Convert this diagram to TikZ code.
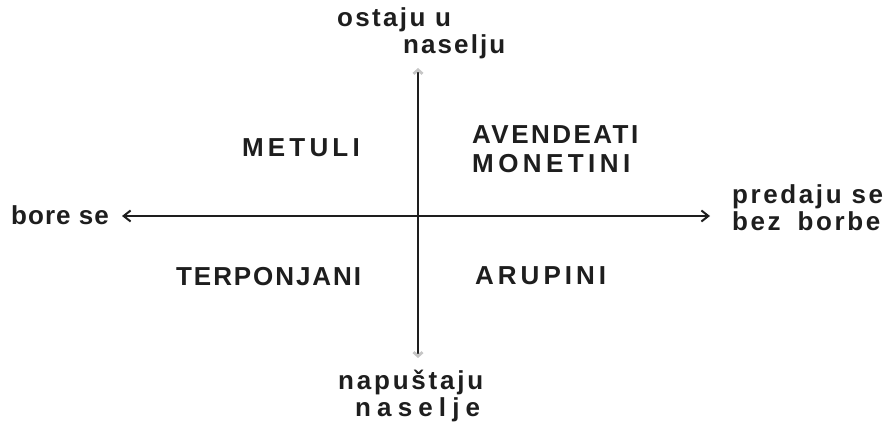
\documentclass[tikz,border=0pt]{standalone}
\usepackage{fontspec}
\setmainfont{Liberation Sans}
\usetikzlibrary{arrows.meta}
\definecolor{ink}{HTML}{1E1E1E}
\begin{document}
\begin{tikzpicture}[x=1pt,y=-1pt,
  lbl/.style={inner sep=0pt, anchor=base west, text=ink},
  upper/.style={text depth=0pt},
  lower/.style={text height=18pt},
  ls/.style={font=\bfseries\fontsize{26}{29}\selectfont\addfontfeature{LetterSpace=#1}},
  axis/.style={draw=ink}]
\useasboundingbox[fill=white] (0,0) rectangle (886,427);
% axes end points
\coordinate (top) at (418,68);
\coordinate (bot) at (418,358);
\coordinate (lft) at (122,216);
\coordinate (rgt) at (710,216);
\draw[axis, line width=2.8pt, {Straight Barb[length=4pt,width=9pt,color=gray!45]}-{Straight Barb[length=4pt,width=9pt,color=gray!45]}] (bot) -- (top);
\draw[axis, line width=2pt, {Straight Barb[length=7pt,width=11pt]}-{Straight Barb[length=7pt,width=11pt]}] (lft) -- (rgt);
% axis labels
\node[lbl, upper, ls=9] (ostaju) at (337,27) {ostaju u};
\node[lbl, lower, ls=8] (naselju) at (403,54) {naselju};
\node[lbl, upper, ls=10.7] (napustaju) at (338,390) {napuštaju};
\node[lbl, lower, ls=23.6] (naselje) at (355,417) {naselje};
\node[lbl, ls=4] (bore) at (11,225) {bore se};
\node[lbl, upper, ls=10] (predaju) at (732,204) {predaju se};
\node[lbl, lower, ls=10] (bez) at (732,231) {bez\hspace{17pt}borbe};
% quadrant labels
\node[lbl, ls=16] (metuli) at (242,157) {METULI};
\node[lbl, upper, ls=9.5] (avend) at (472,144) {AVENDEATI};
\node[lbl, lower, ls=17] (monet) at (472,173) {MONETINI};
\node[lbl, ls=7.4] (terp) at (176,286) {TERPONJANI};
\node[lbl, ls=15.4] (arup) at (475,285) {ARUPINI};
\end{tikzpicture}
\end{document}
